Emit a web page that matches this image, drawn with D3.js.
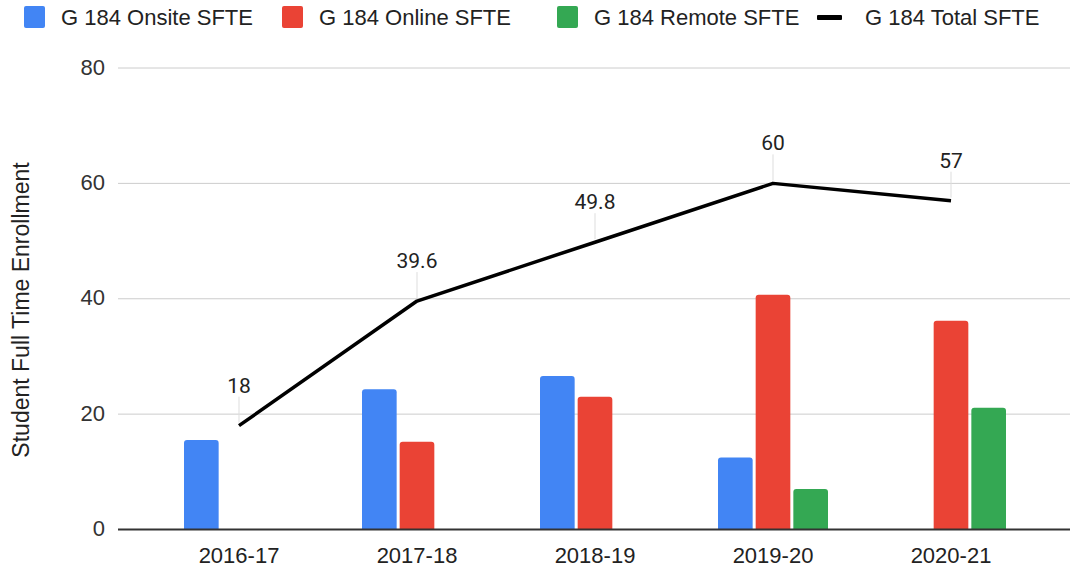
<!DOCTYPE html>
<html>
<head>
<meta charset="utf-8">
<script src="https://cdn.jsdelivr.net/npm/d3@7"></script>
<style>
  body { margin: 0; background: #fff; }
  text { font-family: "Liberation Sans", Arial, sans-serif; fill: #222; }
</style>
</head>
<body>
<div id="chart"></div>
<script>
// data
const years = ["2016-17", "2017-18", "2018-19", "2019-20", "2020-21"];
const onsite = [15.5, 24.3, 26.6, 12.5, null];
const online = [null, 15.2, 23.0, 40.7, 36.2];
const remote = [null, null, null, 7.0, 21.1];
const total = [18, 39.6, 49.8, 60, 57];
const yTicks = [0, 20, 40, 60, 80];

const seriesNames = ["G 184 Onsite SFTE", "G 184 Online SFTE", "G 184 Remote SFTE", "G 184 Total SFTE"];
const colors = ["#4285f4", "#ea4335", "#34a853", "#000000"];

const width = 1070, height = 569;

const svg = d3.select("#chart")
    .append("svg")
      .attr("width", width)
      .attr("height", height);

const x = d3.scaleBand()
    .domain(years)
    .range([150, 1040]);

const y = d3.scaleLinear()
    .domain([0, 80])
    .range([529.5, 68]);

// inner scale for the three bar series
const barKeys = ["onsite", "online", "remote"];
const xInner = d3.scaleBand()
    .domain(barKeys)
    .range([-55, 55])
    .paddingInner(0.08);

// grid lines
svg.append("g")
    .selectAll("line")
    .data(yTicks.filter(d => d > 0))
    .enter()
    .append("line")
      .attr("x1", 118)
      .attr("x2", 1080)
      .attr("y1", d => y(d))
      .attr("y2", d => y(d))
      .attr("stroke", "#cccccc")
      .attr("stroke-width", 1);

// y axis labels
svg.append("g")
    .selectAll("text")
    .data(yTicks)
    .enter()
    .append("text")
      .attr("x", 105)
      .attr("y", d => y(d) - 1)
      .attr("dy", "0.35em")
      .attr("text-anchor", "end")
      .style("font-size", "22px")
      .style("fill", "#333")
      .text(d => d);

// axis title
svg.append("text")
    .attr("transform", "translate(29,310) rotate(-90)")
    .attr("text-anchor", "middle")
    .style("font-size", "23px")
    .text("Student Full Time Enrollment");

// bars, rounded top corners
function barPath(x0, w, yTop, yBase) {
    const r = Math.min(3, (yBase - yTop) / 2);
    return "M" + x0 + "," + yBase +
        "V" + (yTop + r) +
        "Q" + x0 + "," + yTop + " " + (x0 + r) + "," + yTop +
        "H" + (x0 + w - r) +
        "Q" + (x0 + w) + "," + yTop + " " + (x0 + w) + "," + (yTop + r) +
        "V" + yBase + "Z";
}

const barData = [];
years.forEach(function (yr, i) {
    [onsite, online, remote].forEach(function (arr, k) {
        if (arr[i] != null) barData.push({ year: yr, key: barKeys[k], value: arr[i], color: colors[k] });
    });
});

svg.append("g")
    .selectAll("path")
    .data(barData)
    .enter()
    .append("path")
      .attr("d", d => barPath(
          x(d.year) + x.bandwidth() / 2 + xInner(d.key),
          xInner.bandwidth(),
          y(d.value),
          y(0)))
      .attr("fill", d => d.color);

// baseline
svg.append("line")
    .attr("x1", 118)
    .attr("x2", 1080)
    .attr("y1", y(0))
    .attr("y2", y(0))
    .attr("stroke", "#333")
    .attr("stroke-width", 2);

// x labels
svg.append("g")
    .selectAll("text")
    .data(years)
    .enter()
    .append("text")
      .attr("x", d => x(d) + x.bandwidth() / 2)
      .attr("y", 563)
      .attr("text-anchor", "middle")
      .style("font-size", "22px")
      .style("fill", "#222")
      .text(d => d);

// total line
const line = d3.line()
    .x((d, i) => x(years[i]) + x.bandwidth() / 2)
    .y(d => y(d));

svg.append("path")
    .datum(total)
    .attr("d", line)
    .attr("fill", "none")
    .attr("stroke", "#000")
    .attr("stroke-width", 3.5)
    .attr("stroke-linejoin", "round");

// data labels with leader lines
const labels = svg.append("g")
    .selectAll("g")
    .data(total)
    .enter()
    .append("g");

labels.append("line")
    .attr("x1", (d, i) => x(years[i]) + x.bandwidth() / 2)
    .attr("x2", (d, i) => x(years[i]) + x.bandwidth() / 2)
    .attr("y1", d => y(d) - 29)
    .attr("y2", d => y(d) - 3)
    .attr("stroke", "#dddddd")
    .attr("stroke-width", 1);

labels.append("text")
    .attr("x", (d, i) => x(years[i]) + x.bandwidth() / 2)
    .attr("y", d => y(d) - 33)
    .attr("text-anchor", "middle")
    .style("font-family", "Roboto, sans-serif")
    .style("font-size", "21px")
    .style("fill", "#222")
    .text(d => d);

// legend
const legendX = [24, 282, 557, 817];
const legend = svg.append("g")
    .selectAll("g")
    .data(seriesNames)
    .enter()
    .append("g")
      .attr("transform", (d, i) => "translate(" + legendX[i] + ",0)");

legend.filter((d, i) => i < 3)
    .append("rect")
      .attr("x", 0)
      .attr("y", 6)
      .attr("width", 21)
      .attr("height", 22)
      .attr("rx", 2)
      .attr("fill", (d, i) => colors[i]);

legend.filter((d, i) => i === 3)
    .append("rect")
      .attr("x", 0)
      .attr("y", 15)
      .attr("width", 25)
      .attr("height", 5)
      .attr("rx", 1)
      .attr("fill", "#000");

legend.append("text")
    .attr("x", (d, i) => i === 3 ? 48 : 37)
    .attr("y", 17)
    .attr("dy", "0.35em")
    .style("font-size", "22px")
    .style("fill", "#222")
    .text(d => d);
</script>
</body>
</html>
